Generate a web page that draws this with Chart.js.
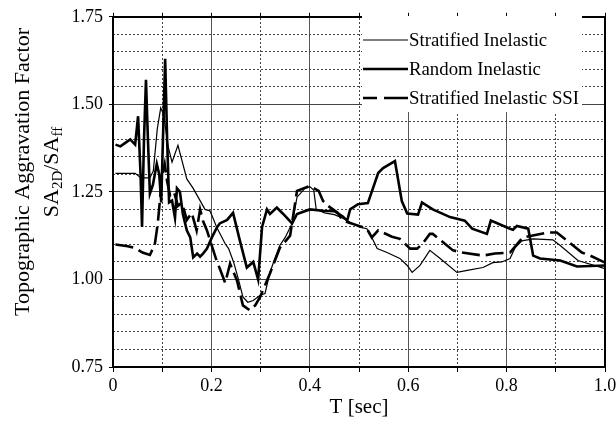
<!DOCTYPE html>
<html>
<head>
<meta charset="utf-8">
<script src="https://cdn.jsdelivr.net/npm/chart.js@4"></script>
<style>
  body { margin: 0; background: #fff; }
  canvas { display: block; }
</style>
</head>
<body>
<canvas id="myChart" width="616" height="429"></canvas>
<script>
// (T in sec, factor)
const tStrat = [0.005,0.045,0.057,0.075,0.082,0.090,0.097,0.103,0.112,0.120,0.132,0.150,0.163,0.177,0.187,0.197,0.203,0.211,0.228,0.235,0.245,0.255,0.264,0.274,0.285,0.299,0.309,0.319,0.329,0.339,0.350,0.364,0.374,0.390,0.400,0.408,0.413,0.430,0.450,0.467,0.480,0.500,0.516,0.526,0.537,0.557,0.583,0.598,0.608,0.624,0.644,0.665,0.699,0.720,0.752,0.772,0.790,0.807,0.817,0.831,0.854,0.894,0.909,0.945,1.0];
const vStrat = [1.303,1.303,1.29,1.29,1.31,1.43,1.49,1.47,1.38,1.335,1.383,1.287,1.26,1.225,1.20,1.196,1.176,1.148,1.102,1.088,1.05,1.00,0.95,0.935,0.94,0.955,0.96,1.02,1.06,1.097,1.12,1.16,1.235,1.26,1.265,1.255,1.20,1.19,1.185,1.175,1.165,1.15,1.145,1.12,1.088,1.077,1.06,1.04,1.02,1.04,1.083,1.06,1.02,1.026,1.034,1.048,1.05,1.06,1.09,1.11,1.116,1.113,1.097,1.054,1.031];

const tRandom = [0.005,0.015,0.025,0.035,0.045,0.051,0.056,0.059,0.063,0.067,0.071,0.075,0.081,0.089,0.094,0.098,0.106,0.110,0.114,0.120,0.126,0.130,0.136,0.142,0.150,0.157,0.163,0.171,0.177,0.183,0.191,0.201,0.211,0.217,0.232,0.244,0.258,0.272,0.285,0.295,0.303,0.313,0.319,0.333,0.346,0.364,0.374,0.400,0.427,0.450,0.467,0.476,0.482,0.498,0.518,0.539,0.549,0.573,0.587,0.598,0.620,0.628,0.650,0.685,0.715,0.730,0.760,0.768,0.807,0.813,0.821,0.844,0.854,0.868,0.909,0.943,1.0];
const vRandom = [1.385,1.38,1.39,1.40,1.385,1.466,1.30,1.15,1.40,1.57,1.40,1.245,1.27,1.33,1.30,1.22,1.63,1.40,1.22,1.225,1.176,1.26,1.25,1.187,1.14,1.12,1.063,1.074,1.065,1.074,1.088,1.12,1.148,1.16,1.17,1.19,1.11,1.034,1.05,1.00,1.15,1.20,1.187,1.205,1.187,1.16,1.187,1.20,1.196,1.195,1.18,1.168,1.20,1.215,1.218,1.304,1.318,1.338,1.224,1.188,1.185,1.22,1.20,1.178,1.168,1.145,1.13,1.168,1.145,1.142,1.153,1.145,1.068,1.06,1.054,1.037,1.04];

const tSSI = [0.005,0.030,0.045,0.060,0.075,0.085,0.091,0.095,0.100,0.105,0.110,0.116,0.124,0.132,0.140,0.150,0.160,0.170,0.177,0.183,0.191,0.200,0.209,0.217,0.228,0.238,0.252,0.264,0.278,0.289,0.299,0.319,0.339,0.360,0.374,0.400,0.418,0.427,0.437,0.447,0.457,0.467,0.480,0.500,0.516,0.526,0.539,0.567,0.583,0.604,0.618,0.628,0.644,0.650,0.691,0.709,0.752,0.776,0.807,0.833,0.884,0.902,0.953,0.970,1.0];
const vSSI = [1.10,1.095,1.09,1.077,1.07,1.10,1.16,1.22,1.30,1.33,1.28,1.24,1.25,1.21,1.22,1.17,1.19,1.14,1.20,1.167,1.14,1.10,1.06,1.031,0.99,1.045,0.997,0.926,0.912,0.926,0.95,1.017,1.09,1.125,1.253,1.267,1.253,1.224,1.21,1.20,1.19,1.168,1.162,1.153,1.145,1.12,1.14,1.122,1.116,1.088,1.088,1.10,1.13,1.13,1.083,1.077,1.068,1.074,1.077,1.12,1.134,1.134,1.077,1.068,1.048];

const seriesLabels = ['Stratified Inelastic', 'Random Inelastic', 'Stratified Inelastic SSI'];
const xTicks = [0, 0.2, 0.4, 0.6, 0.8, 1.0];
const yTicks = [0.75, 1.00, 1.25, 1.50, 1.75];

const serif = '"Liberation Serif", "Times New Roman", serif';

function pairs(ts, vs) {
    return ts.map((t, i) => ({x: t, y: vs[i]}));
}
const isMajorX = v => Math.abs(v * 5 - Math.round(v * 5)) < 1e-6;
const isMajorY = v => Math.abs(v * 4 - Math.round(v * 4)) < 1e-6;

// legend drawn inside the plot, over the grid
const legendBox = {
    id: 'legendBox',
    beforeDatasetsDraw(chart) {
        const ctx = chart.ctx;
        ctx.save();
        ctx.fillStyle = '#fff';
        ctx.fillRect(362, 16, 220, 96);
        chart.data.datasets.forEach((ds, i) => {
            const y = 40 + i * 29;
            ctx.strokeStyle = '#000';
            ctx.lineWidth = ds.borderWidth;
            ctx.setLineDash(ds.borderDash ? [14, 7, 40] : []);
            ctx.beginPath();
            ctx.moveTo(363, y);
            ctx.lineTo(408, y);
            ctx.stroke();
            ctx.setLineDash([]);
            ctx.fillStyle = '#000';
            ctx.font = '18.8px ' + serif;
            ctx.textBaseline = 'middle';
            ctx.fillText(ds.label, 409, y + 1);
        });
        ctx.restore();
    }
};

// two line y title with subscripts
const yTitle = {
    id: 'yTitle',
    afterDraw(chart) {
        const ctx = chart.ctx;
        ctx.save();
        ctx.translate(23, 172);
        ctx.rotate(-Math.PI / 2);
        ctx.fillStyle = '#000';
        ctx.textBaseline = 'middle';
        ctx.textAlign = 'center';
        ctx.font = '22px ' + serif;
        ctx.fillText('Topographic Aggravation Factor', 0, 0);

        const parts = [['SA', false], ['2D', true], ['/SA', false], ['ff', true]];
        const fontFor = sub => (sub ? '15px ' : '22px ') + serif;
        let total = 0;
        parts.forEach(([s, sub]) => { ctx.font = fontFor(sub); total += ctx.measureText(s).width; });
        let x = -total / 2;
        ctx.textAlign = 'left';
        parts.forEach(([s, sub]) => {
            ctx.font = fontFor(sub);
            ctx.fillText(s, x, sub ? 35 : 29);
            x += ctx.measureText(s).width;
        });
        ctx.restore();
    }
};

const ctx = document.getElementById('myChart').getContext('2d');

new Chart(ctx, {
    type: 'line',
    data: {
        datasets: [{
            label: seriesLabels[0],
            data: pairs(tStrat, vStrat),
            borderColor: '#000',
            borderWidth: 1.2,
        }, {
            label: seriesLabels[1],
            data: pairs(tRandom, vRandom),
            borderColor: '#000',
            borderWidth: 2.6,
        }, {
            label: seriesLabels[2],
            data: pairs(tSSI, vSSI),
            borderColor: '#000',
            borderWidth: 2.6,
            borderDash: [18, 6],
        }]
    },
    options: {
        responsive: false,
        animation: false,
        devicePixelRatio: 1,
        layout: { padding: 0 },
        elements: {
            point: { radius: 0 },
            line: { tension: 0, fill: false, borderCapStyle: 'butt' }
        },
        plugins: {
            legend: { display: false },
            tooltip: { enabled: false }
        },
        scales: {
            x: {
                type: 'linear',
                position: 'bottom',
                min: 0, max: 1,
                afterFit: s => { s.height = 62; s.paddingLeft = 0; s.paddingRight = 0; },
                ticks: {
                    stepSize: 0.1,
                    autoSkip: false,
                    maxRotation: 0,
                    padding: 3,
                    color: '#000',
                    font: { family: serif, size: 18 },
                    callback: v => {
                        const hit = xTicks.find(t => Math.abs(t - v) < 1e-6);
                        if (hit === undefined) return '';
                        return hit === 0 ? '0' : hit.toFixed(1);
                    }
                },
                grid: {
                    color: c => isMajorX(c.tick.value) ? '#555' : 'rgba(0,0,0,0)',
                    lineWidth: 1,
                    tickColor: '#000',
                    tickLength: 5
                },
                border: { color: '#000', width: 2 },
                title: {
                    display: true,
                    text: 'T [sec]',
                    color: '#000',
                    font: { family: serif, size: 21 },
                    padding: { top: 0, bottom: 9 }
                }
            },
            x2: {
                type: 'linear',
                position: 'top',
                display: true,
                min: 0, max: 1,
                afterFit: s => { s.height = 15; s.paddingLeft = 0; s.paddingRight = 0; },
                ticks: { display: false, stepSize: 0.1, autoSkip: false },
                grid: {
                    color: c => isMajorX(c.tick.value) ? 'rgba(0,0,0,0)' : '#444',
                    lineWidth: 1,
                    tickColor: '#000',
                    tickLength: 4
                },
                border: { color: '#000', width: 2, dash: [2, 2] }
            },
            y: {
                type: 'linear',
                position: 'left',
                min: 0.75, max: 1.75,
                afterFit: s => { s.width = 113; },
                ticks: {
                    stepSize: 0.05,
                    autoSkip: false,
                    padding: 6,
                    color: '#000',
                    font: { family: serif, size: 18 },
                    callback: v => {
                        const hit = yTicks.find(t => Math.abs(t - v) < 1e-6);
                        return hit === undefined ? '' : hit.toFixed(2);
                    }
                },
                grid: {
                    color: c => isMajorY(c.tick.value) ? '#444' : 'rgba(0,0,0,0)',
                    lineWidth: 1,
                    tickColor: c => isMajorY(c.tick.value) ? '#000' : 'rgba(0,0,0,0)',
                    tickLength: 4
                },
                border: { color: '#000', width: 2 }
            },
            y2: {
                type: 'linear',
                position: 'right',
                display: true,
                min: 0.75, max: 1.75,
                afterFit: s => { s.width = 11; },
                ticks: { display: false, stepSize: 0.05, autoSkip: false },
                grid: {
                    color: c => isMajorY(c.tick.value) ? 'rgba(0,0,0,0)' : '#444',
                    lineWidth: 1,
                    drawTicks: false
                },
                border: { color: '#000', width: 2, dash: [2, 2] }
            }
        }
    },
    plugins: [legendBox, yTitle]
});
</script>
</body>
</html>
